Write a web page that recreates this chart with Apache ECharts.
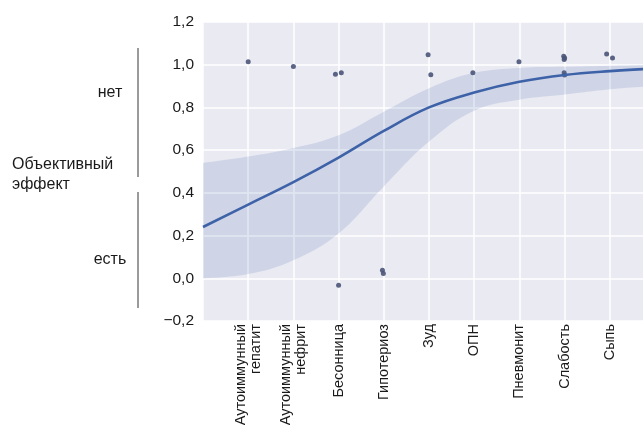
<!DOCTYPE html>
<html>
<head>
<meta charset="utf-8">
<script src="https://cdn.jsdelivr.net/npm/echarts@6/dist/echarts.min.js"></script>
<style>
html,body{margin:0;padding:0;background:#fff;}
#chart{width:643px;height:425px;}
</style>
</head>
<body>
<div id="chart"></div>
<script>
// Categories (placed at x = 0..8)
const categories = ['Аутоиммунный\nгепатит', 'Аутоиммунный\nнефрит', 'Бесонница', 'Гипотериоз', 'Зуд', 'ОПН', 'Пневмонит', 'Слабость', 'Сыпь'];

// Observed (jittered) points: x position, y value
const pointX = [0.00, 1.00, 1.93, 2.06, 2.00, 2.97, 2.99, 3.98, 4.04, 4.97, 5.99, 6.98, 6.99, 7.00, 6.99, 7.00, 7.93, 8.06];
const pointY = [1.014, 0.992, 0.955, 0.962, -0.033, 0.038, 0.022, 1.047, 0.953, 0.962, 1.014, 1.040, 1.025, 1.032, 0.962, 0.952, 1.050, 1.032];

// Logistic fit curve and confidence band read at x = -1..9
const fitX = [-1, 0, 1, 2, 3, 4, 5, 6, 7, 8, 9];
const fitY = [0.240, 0.345, 0.450, 0.565, 0.690, 0.800, 0.870, 0.920, 0.952, 0.970, 0.982];
const ciUpper = [0.540, 0.570, 0.610, 0.670, 0.780, 0.890, 0.962, 0.985, 0.990, 0.995, 1.000];
const ciLower = [0.000, 0.020, 0.085, 0.210, 0.430, 0.640, 0.785, 0.836, 0.860, 0.885, 0.900];

// Left annotation texts
const groupTitle = ['Объективный', 'эффект'];
const levelLabels = ['нет', 'есть'];

const FONT = '"Liberation Sans", Arial, sans-serif';
const chart = echarts.init(document.getElementById('chart'));

const option = {
  animation: false,
  backgroundColor: '#ffffff',
  grid: {
    left: 203, right: -12, top: 22, bottom: 104,
    outerBoundsMode: 'none', containLabel: false,
    show: true, backgroundColor: '#EAEAF2', borderWidth: 0
  },
  xAxis: [
    {
      type: 'value', min: -1, max: 9, interval: 1,
      axisLine: {show: false}, axisTick: {show: false},
      splitLine: {show: true, lineStyle: {color: '#ffffff', width: 1.5}},
      axisLabel: {
        rotate: 90, margin: 3, fontFamily: FONT, fontSize: 14.5, color: '#1a1a1a',
        lineHeight: 15, hideOverlap: false,
        formatter: function (v) {
          const i = Math.round(v);
          return (i >= 0 && i < categories.length) ? categories[i] : '';
        }
      }
    },
    {
      type: 'category', data: fitX.map(String), boundaryGap: false, show: false
    }
  ],
  yAxis: {
    type: 'value', min: -0.2, max: 1.2, interval: 0.2,
    axisLine: {show: false}, axisTick: {show: false},
    splitLine: {show: true, lineStyle: {color: '#ffffff', width: 1.5}},
    axisLabel: {
      margin: 9, fontFamily: FONT, fontSize: 15.5, color: '#1a1a1a',
      formatter: function (v) {
        return v.toFixed(1).replace('.', ',').replace('-', '\u2212');
      }
    }
  },
  series: [
    {
      type: 'line', xAxisIndex: 1, stack: 'ci', smooth: 0.4, symbol: 'none', silent: true,
      data: ciLower,
      lineStyle: {opacity: 0}
    },
    {
      type: 'line', xAxisIndex: 1, stack: 'ci', smooth: 0.4, symbol: 'none', silent: true,
      data: ciUpper.map((u, i) => +(u - ciLower[i]).toFixed(3)),
      lineStyle: {opacity: 0},
      areaStyle: {color: 'rgba(76,114,176,0.17)', opacity: 1}
    },
    {
      type: 'line', xAxisIndex: 1, smooth: 0.4, symbol: 'none', silent: true,
      data: fitY,
      lineStyle: {color: '#3E62A8', width: 2.6}
    },
    {
      type: 'scatter', xAxisIndex: 0, symbolSize: 5,
      data: pointX.map((x, i) => [x, pointY[i]]),
      itemStyle: {color: '#4A5478', opacity: 0.9}
    }
  ],
  graphic: [
    {type: 'line', shape: {x1: 138, y1: 48, x2: 138, y2: 177}, style: {stroke: '#9a9a9a', lineWidth: 2}},
    {type: 'line', shape: {x1: 138, y1: 192, x2: 138, y2: 308}, style: {stroke: '#9a9a9a', lineWidth: 2}},
    {type: 'text', x: 110, y: 93, style: {text: levelLabels[0], font: '16px ' + FONT, fill: '#1a1a1a', align: 'center', verticalAlign: 'middle'}},
    {type: 'text', x: 110, y: 260, style: {text: levelLabels[1], font: '16px ' + FONT, fill: '#1a1a1a', align: 'center', verticalAlign: 'middle'}},
    {type: 'text', x: 12, y: 165, style: {text: groupTitle[0], font: '16px ' + FONT, fill: '#1a1a1a', align: 'left', verticalAlign: 'middle'}},
    {type: 'text', x: 12, y: 185, style: {text: groupTitle[1], font: '16px ' + FONT, fill: '#1a1a1a', align: 'left', verticalAlign: 'middle'}}
  ]
};
chart.setOption(option);
</script>
</body>
</html>
